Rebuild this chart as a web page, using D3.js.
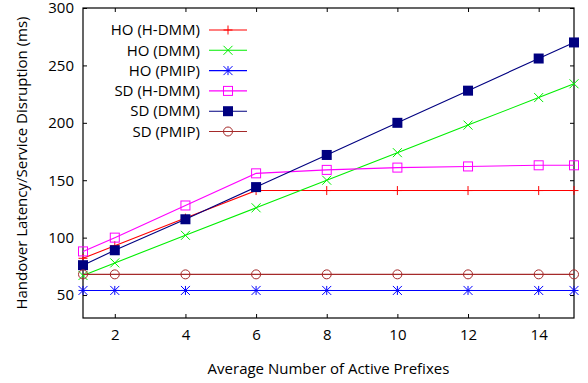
<!DOCTYPE html>
<html>
<head>
<meta charset="utf-8">
<script src="https://cdn.jsdelivr.net/npm/d3@7"></script>
<style>
  body { margin: 0; background: #fff; }
  text { font-family: "Open Sans", sans-serif; fill: #000; }
</style>
</head>
<body>
<div id="chart"></div>
<script>
// data
const xValues = [1.1, 2, 4, 6, 8, 10, 12, 14, 15];
const hoHdmm = [82, 93, 117, 141, 141, 141, 141, 141, 141];
const hoDmm = [67, 78, 102, 126, 150, 174, 198, 222, 234];
const hoPmip = [54, 54, 54, 54, 54, 54, 54, 54, 54];
const sdHdmm = [88, 100, 128, 156, 159, 161, 162, 163, 163];
const sdDmm = [76, 89, 116, 144, 172, 200, 228, 256, 270];
const sdPmip = [68, 68, 68, 68, 68, 68, 68, 68, 68];
const xTicks = [2, 4, 6, 8, 10, 12, 14];
const yTicks = [50, 100, 150, 200, 250, 300];

const series = [
  { name: 'HO (H-DMM)', values: hoHdmm, color: '#ff0000', marker: 'plus' },
  { name: 'HO (DMM)', values: hoDmm, color: '#00ee00', marker: 'cross' },
  { name: 'HO (PMIP)', values: hoPmip, color: '#0000ff', marker: 'star' },
  { name: 'SD (H-DMM)', values: sdHdmm, color: '#ff00ff', marker: 'square' },
  { name: 'SD (DMM)', values: sdDmm, color: '#000080', marker: 'fsquare' },
  { name: 'SD (PMIP)', values: sdPmip, color: '#a52a2a', marker: 'circle' }
];

const W = 588, H = 383;
const margin = { top: 8, right: 14, bottom: 65, left: 83 };
const width = W - margin.left - margin.right;
const height = H - margin.top - margin.bottom;
const fs = '15px';

const svg = d3.select('#chart').append('svg')
  .attr('width', W).attr('height', H);
const g = svg.append('g')
  .attr('transform', `translate(${margin.left},${margin.top})`);

const x = d3.scaleLinear().domain([1.1, 15]).range([0, width]);
const y = d3.scaleLinear().domain([30, 300]).range([height, 0]);

// ticks on all four sides, pointing inward
const tk = 4;
g.append('g')
  .attr('transform', `translate(0,${height})`)
  .call(d3.axisBottom(x).tickValues(xTicks).tickSizeInner(-tk).tickSizeOuter(0).tickPadding(11))
  .call(a => a.select('.domain').remove())
  .selectAll('text').attr('font-size', fs);
g.append('g')
  .call(d3.axisTop(x).tickValues(xTicks).tickSizeInner(-tk).tickSizeOuter(0).tickFormat(''))
  .call(a => a.select('.domain').remove());
g.append('g')
  .call(d3.axisLeft(y).tickValues(yTicks).tickSizeInner(-tk).tickSizeOuter(0).tickPadding(9))
  .call(a => a.select('.domain').remove())
  .selectAll('text').attr('font-size', fs);
g.append('g')
  .attr('transform', `translate(${width},0)`)
  .call(d3.axisRight(y).tickValues(yTicks).tickSizeInner(-tk).tickSizeOuter(0).tickFormat(''))
  .call(a => a.select('.domain').remove());

g.append('rect')
  .attr('width', width).attr('height', height)
  .attr('fill', 'none').attr('stroke', '#000').attr('stroke-width', 1.2);

svg.append('text')
  .attr('x', margin.left + width / 2).attr('y', 374)
  .attr('text-anchor', 'middle').attr('font-size', fs)
  .text('Average Number of Active Prefixes');
svg.append('text')
  .attr('transform', `translate(27,${margin.top + height / 2}) rotate(-90)`)
  .attr('text-anchor', 'middle').attr('font-size', fs)
  .text('Handover Latency/Service Disruption (ms)');

function drawMarker(sel, type, color) {
  const s = 4.5;
  if (type === 'plus') {
    sel.append('path').attr('d', `M${-s},0H${s}M0,${-s}V${s}`).attr('stroke', color).attr('fill', 'none');
  } else if (type === 'cross') {
    sel.append('path').attr('d', `M${-s},${-s}L${s},${s}M${-s},${s}L${s},${-s}`).attr('stroke', color).attr('fill', 'none');
  } else if (type === 'star') {
    sel.append('path').attr('d', `M${-s},0H${s}M0,${-s}V${s}M${-s},${-s}L${s},${s}M${-s},${s}L${s},${-s}`)
      .attr('stroke', color).attr('fill', 'none');
  } else if (type === 'square') {
    sel.append('rect').attr('x', -s).attr('y', -s).attr('width', 2 * s).attr('height', 2 * s)
      .attr('stroke', color).attr('fill', 'none');
  } else if (type === 'fsquare') {
    sel.append('rect').attr('x', -s - 0.5).attr('y', -s - 0.5).attr('width', 2 * s + 1).attr('height', 2 * s + 1)
      .attr('fill', color);
  } else if (type === 'circle') {
    sel.append('circle').attr('r', s).attr('stroke', color).attr('fill', 'none');
  }
}

const line = d3.line().x(d => x(d[0])).y(d => y(d[1]));

series.forEach(s => {
  const pts = xValues.map((v, i) => [v, s.values[i]]);
  g.append('path').datum(pts).attr('d', line)
    .attr('fill', 'none').attr('stroke', s.color).attr('stroke-width', 1.1);
  pts.forEach(p => {
    const m = g.append('g').attr('transform', `translate(${x(p[0])},${y(p[1])})`);
    drawMarker(m, s.marker, s.color);
  });
});

// legend
const legend = svg.append('g');
series.forEach((s, i) => {
  const ly = 30 + i * 20.3;
  legend.append('text')
    .attr('x', 200).attr('y', ly).attr('dy', '0.35em')
    .attr('text-anchor', 'end').attr('font-size', fs)
    .text(s.name);
  legend.append('line')
    .attr('x1', 209).attr('x2', 247).attr('y1', ly).attr('y2', ly)
    .attr('stroke', s.color).attr('stroke-width', 1.1);
  const m = legend.append('g').attr('transform', `translate(228,${ly})`);
  drawMarker(m, s.marker, s.color);
});
</script>
</body>
</html>
